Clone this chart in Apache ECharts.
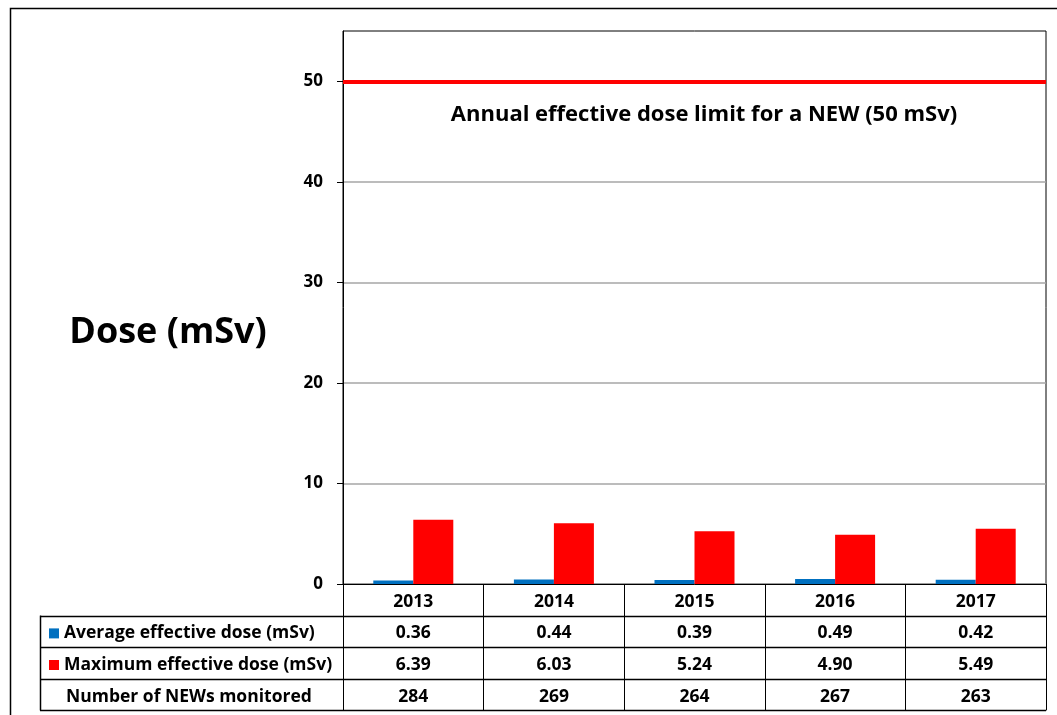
<!DOCTYPE html>
<html><head><meta charset="utf-8">
<script src="https://cdn.jsdelivr.net/npm/echarts@6/dist/echarts.min.js"></script>
<style>html,body{margin:0;padding:0;background:#fff}#c{width:1057px;height:715px}</style>
</head><body><div id="c"></div>
<script>
const years = ['2013','2014','2015','2016','2017'];
const avgDose = [0.36, 0.44, 0.39, 0.49, 0.42];
const maxDose = [6.39, 6.03, 5.24, 4.90, 5.49];
const numMonitored = [284, 269, 264, 267, 263];
const rowLabels = ['Average effective dose (mSv)', 'Maximum effective dose (mSv)', 'Number of NEWs monitored'];
const yTicks = [0, 10, 20, 30, 40, 50];
const doseLimit = 50;
const limitText = 'Annual effective dose limit for a NEW (50 mSv)';
const yTitle = 'Dose (mSv)';

const FONT = 'Open Sans';
const chart = echarts.init(document.getElementById('c'));
const gridL = 343, gridR = 11, gridT = 31, gridB = 131;
const rowH = 31.6;

const option = {
  animation: false,
  backgroundColor: '#fff',
  grid: { left: gridL, right: gridR, top: gridT, bottom: gridB, show: true, borderColor: '#000', borderWidth: 1, backgroundColor: '#fff' },
  xAxis: {
    type: 'category', data: years,
    axisLine: { lineStyle: { color: '#000', width: 1 } },
    axisTick: { show: true, length: rowH * 4, lineStyle: { color: '#000', width: 1 } },
    axisLabel: {
      margin: 2, interval: 0,
      fontFamily: FONT, fontWeight: 'bold', fontSize: 17.5, color: '#000', lineHeight: rowH,
      formatter: (v, i) => [v, avgDose[i].toFixed(2), maxDose[i].toFixed(2), String(numMonitored[i])].join('\n')
    }
  },
  yAxis: {
    type: 'value', min: 0, max: 55, interval: 10,
    axisLine: { show: true, lineStyle: { color: '#000', width: 1 } },
    axisTick: { show: true, length: 6, customValues: yTicks, lineStyle: { color: '#000' } },
    axisLabel: { customValues: yTicks, margin: 20, fontFamily: FONT, fontWeight: 'bold', fontSize: 17, color: '#000' },
    splitLine: { show: true, lineStyle: { color: '#a6a6a6', width: 1.5 } }
  },
  series: [
    { name: rowLabels[0], type: 'bar', data: avgDose, barWidth: 40, barGap: '0%', itemStyle: { color: '#0070C0' } },
    { name: rowLabels[1], type: 'bar', data: maxDose, barWidth: 40, barGap: '0%', itemStyle: { color: '#FF0000' },
      markLine: { silent: true, symbol: 'none', label: { show: false },
        lineStyle: { color: '#FF0000', width: 4, type: 'solid' }, data: [{ yAxis: doseLimit }] } }
  ]
};
chart.setOption(option);

const x0 = chart.convertToPixel({ gridIndex: 0 }, [0, 0]);
const yBase = x0[1];
const xLeftTbl = 40, xRight = 1057 - gridR;
const els = [];
els.push({ type: 'rect', shape: { x: 10.5, y: 8.5, width: 1060, height: 720 }, style: { fill: null, stroke: '#000', lineWidth: 1.5 }, z: 100 });
for (let r = 1; r <= 4; r++) {
  const y = Math.round(yBase + rowH * r) + 0.5;
  els.push({ type: 'line', shape: { x1: xLeftTbl, y1: y, x2: xRight, y2: y }, style: { stroke: '#000', lineWidth: 1.5 }, z: 100 });
}
els.push({ type: 'line', shape: { x1: xLeftTbl + 0.5, y1: yBase + rowH, x2: xLeftTbl + 0.5, y2: yBase + rowH * 4 }, style: { stroke: '#000', lineWidth: 1.5 }, z: 100 });
const colors = ['#0070C0', '#FF0000', null];
rowLabels.forEach((t, i) => {
  const cy = yBase + rowH * (i + 1.5) + 2;
  if (colors[i]) els.push({ type: 'rect', shape: { x: 49, y: cy - 5, width: 10, height: 10 }, style: { fill: colors[i] }, z: 100 });
  els.push({ type: 'text', x: colors[i] ? 64 : 66, y: cy, style: { text: t, fontFamily: FONT, fontWeight: 'bold', fontSize: 17.5, fill: '#000', verticalAlign: 'middle', align: 'left' }, z: 100 });
});
els.push({ type: 'text', x: 168, y: 333, style: { text: yTitle, fontFamily: FONT, fontWeight: 'bold', fontSize: 36, fill: '#000', align: 'center', verticalAlign: 'middle' }, z: 100 });
const lim = chart.convertToPixel({ gridIndex: 0 }, [0, doseLimit]);
els.push({ type: 'text', x: 704, y: lim[1] + 33, style: { text: limitText, fontFamily: FONT, fontWeight: 'bold', fontSize: 22, fill: '#000', align: 'center', verticalAlign: 'middle' }, z: 100 });
chart.setOption({ graphic: { elements: els } });
</script></body></html>
